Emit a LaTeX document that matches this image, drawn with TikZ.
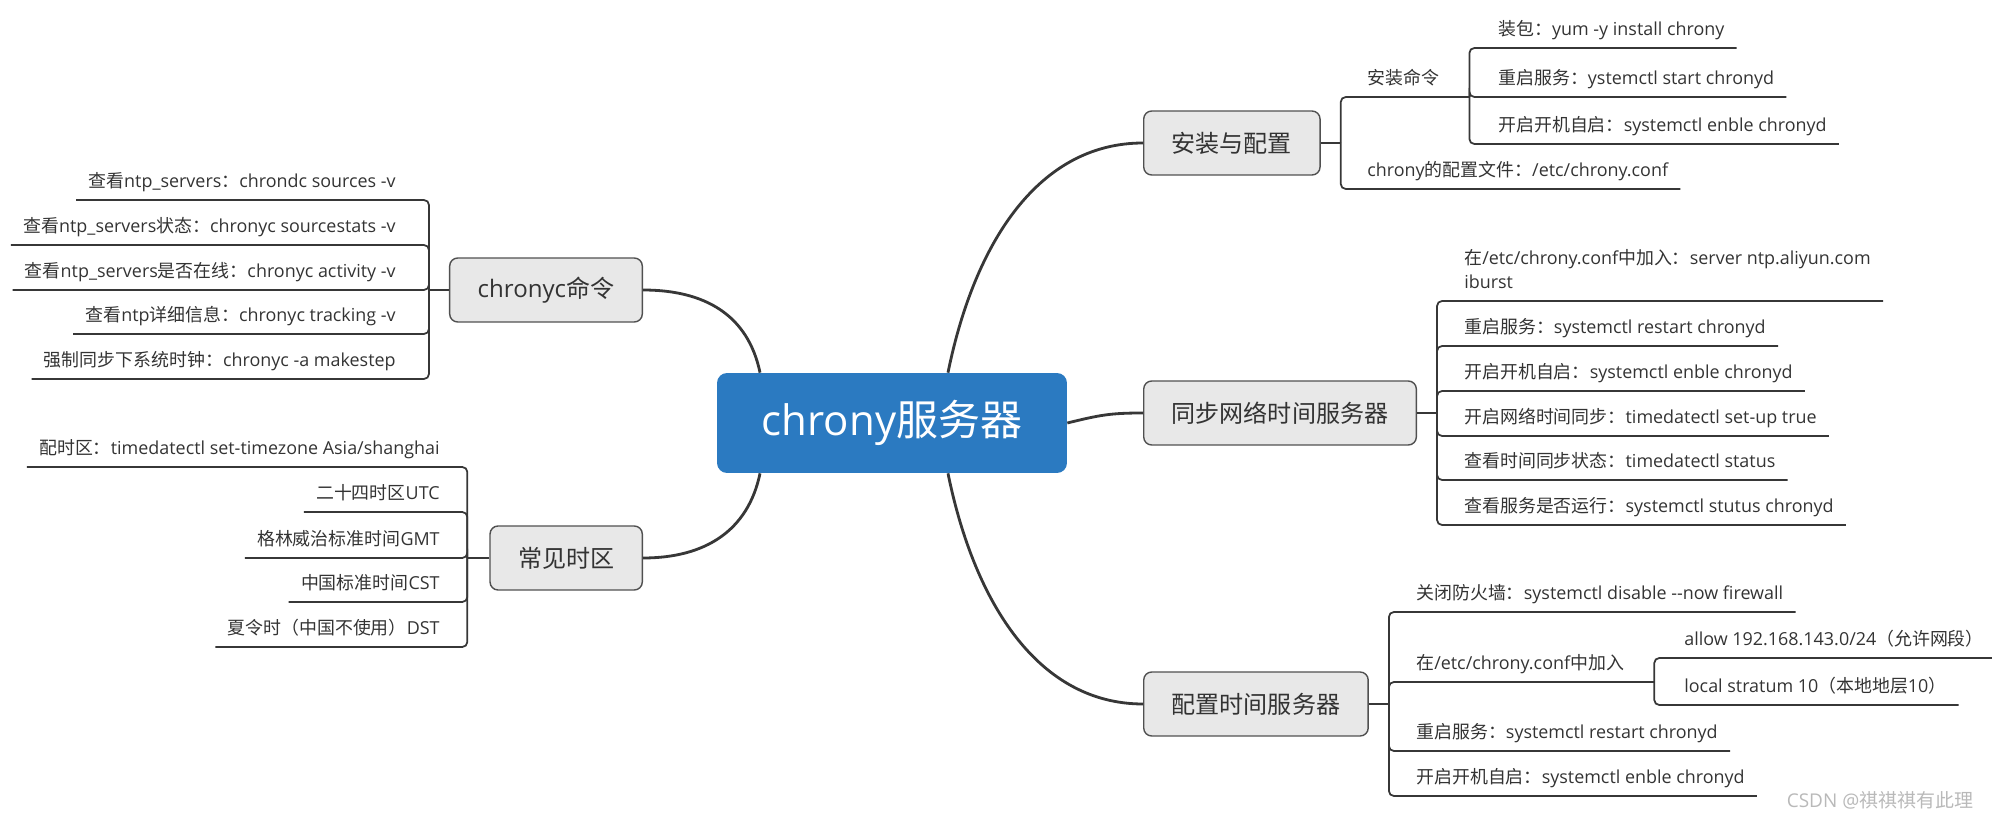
\documentclass[tikz,border=0pt]{standalone}
\usepackage{fontspec}
\setmainfont{Open Sans}[Ligatures=TeXOff]
\newfontfamily\zhfont{Noto Sans CJK SC}
\newcommand{\zh}[1]{{\zhfont #1}}
\definecolor{rootblue}{RGB}{43,122,193}
\definecolor{boxfill}{RGB}{232,232,232}
\definecolor{boxline}{RGB}{80,80,80}
\definecolor{inkgray}{RGB}{51,51,51}
\definecolor{linegray}{RGB}{55,55,55}

\begin{document}
\begin{tikzpicture}[
    x=0.02cm, y=-0.02cm,
    text=inkgray,
    font=\fontsize{10.2pt}{13.7pt}\selectfont,
    root/.style={fill=rootblue, text=white, rounded corners=0.2cm,
                 minimum width=7cm, minimum height=2cm,
                 font=\fontsize{23.9pt}{28pt}\selectfont},
    topic/.style={draw=boxline, fill=boxfill, line width=0.8pt,
                  rounded corners=0.16cm, minimum height=1.28cm,
                  inner xsep=0.56cm, font=\fontsize{13.7pt}{16pt}\selectfont},
    leafR/.style={anchor=south west, align=left, inner xsep=0.24cm,
                  inner ysep=0.16cm, text depth=0.08cm},
    leafL/.style={anchor=south east, align=right, inner xsep=0.24cm,
                  inner ysep=0.16cm, text depth=0.08cm},
    branch/.style={draw=linegray, line width=1.6pt},
    twig/.style={draw=linegray, line width=1pt, rounded corners=0.1cm}
]
    \useasboundingbox (0,0) rectangle (1992,820);

    % centre and main topics
    \node[root] (core) at (892,423) {chrony\zh{服务器}};
    \node[topic, anchor=west] (setup) at (1143,143) {\zh{安装与配置}};
    \node[topic, anchor=west] (sync) at (1143,413) {\zh{同步网络时间服务器}};
    \node[topic, anchor=west] (serve) at (1143,704) {\zh{配置时间服务器}};
    \node[topic, anchor=east] (cmd) at (643,290) {chronyc\zh{命令}};
    \node[topic, anchor=east] (zone) at (643,558) {\zh{常见时区}};

    \draw[branch] ([xshift=1.12cm]core.north) .. controls (975,240) and (1040,143) .. (setup.west);
    \draw[branch] (core.east) .. controls (1100,415) and (1110,413) .. (sync.west);
    \draw[branch] ([xshift=1.12cm]core.south) .. controls (975,606) and (1040,704) .. (serve.west);
    \draw[branch] ([xshift=-2.64cm]core.north) .. controls (748,315) and (705,290) .. (cmd.east);
    \draw[branch] ([xshift=-2.64cm]core.south) .. controls (748,531) and (705,558) .. (zone.east);

    \coordinate (setupj) at ([xshift=0.4cm]setup.east);
    \coordinate (syncj) at ([xshift=0.4cm]sync.east);
    \coordinate (servej) at ([xshift=0.4cm]serve.east);
    \coordinate (cmdj) at ([xshift=-0.4cm]cmd.west);
    \coordinate (zonej) at ([xshift=-0.44cm]zone.west);
    \draw[twig] (setup.east) -- (setupj);
    \draw[twig] (sync.east) -- (syncj);
    \draw[twig] (serve.east) -- (servej);
    \draw[twig] (cmd.west) -- (cmdj);
    \draw[twig] (zone.west) -- (zonej);

    % 安装与配置
    \node[leafR] (inst) at (1355,97) {\zh{安装命令}};
    \node[leafR] (conf) at (1355,189) {chrony\zh{的配置文件：}/etc/chrony.conf};
    \coordinate (instj) at ([xshift=0.36cm]inst.south east);
    \node[leafR] (yum) at (1486,48) {\zh{装包：}yum -y install chrony};
    \node[leafR] (start) at (1486,97) {\zh{重启服务：}ystemctl start chronyd};
    \node[leafR] (boot) at (1486,144) {\zh{开启开机自启：}systemctl enble chronyd};
    \draw[twig] (setupj) |- (instj);
    \draw[twig] (setupj) |- (conf.south east);
    \draw[twig] (instj) |- (yum.south east);
    \draw[twig] (instj) |- (start.south east);
    \draw[twig] (instj) |- (boot.south east);

    % 同步网络时间服务器
    \node[leafR] (aliyun) at (1452,301) {\zh{在}/etc/chrony.conf\zh{中加入：}server ntp.aliyun.com\\iburst};
    \node[leafR] (restartA) at (1452,346) {\zh{重启服务：}systemctl restart chronyd};
    \node[leafR] (bootA) at (1452,391) {\zh{开启开机自启：}systemctl enble chronyd};
    \node[leafR] (ntpon) at (1452,436) {\zh{开启网络时间同步：}timedatectl set-up true};
    \node[leafR] (status) at (1452,480) {\zh{查看时间同步状态：}timedatectl status};
    \node[leafR] (running) at (1452,525) {\zh{查看服务是否运行：}systemctl stutus chronyd};
    \draw[twig] (syncj) |- (aliyun.south east);
    \draw[twig] (syncj) |- (restartA.south east);
    \draw[twig] (syncj) |- (bootA.south east);
    \draw[twig] (syncj) |- (ntpon.south east);
    \draw[twig] (syncj) |- (status.south east);
    \draw[twig] (syncj) |- (running.south east);

    % 配置时间服务器
    \node[leafR] (firewall) at (1404,612) {\zh{关闭防火墙：}systemctl disable --now firewall};
    \node[leafR] (append) at (1404,682) {\zh{在}/etc/chrony.conf\zh{中加入}};
    \coordinate (appendj) at ([xshift=0.36cm]append.south east);
    \node[leafR] (allow) at (1672,658) {allow 192.168.143.0/24\zh{（允许网段）}};
    \node[leafR] (stratum) at (1672,705) {local stratum 10\zh{（本地地层}10\zh{）}};
    \node[leafR] (restartB) at (1404,751) {\zh{重启服务：}systemctl restart chronyd};
    \node[leafR] (bootB) at (1404,796) {\zh{开启开机自启：}systemctl enble chronyd};
    \draw[twig] (servej) |- (firewall.south east);
    \draw[twig] (servej) |- (appendj);
    \draw[twig] (appendj) |- (allow.south east);
    \draw[twig] (appendj) |- (stratum.south east);
    \draw[twig] (servej) |- (restartB.south east);
    \draw[twig] (servej) |- (bootB.south east);

    % chronyc命令
    \node[leafL] (sources) at (408,200) {\zh{查看}ntp\_servers\zh{：}chrondc sources -v};
    \node[leafL] (stats) at (408,245) {\zh{查看}ntp\_servers\zh{状态：}chronyc sourcestats -v};
    \node[leafL] (online) at (408,290) {\zh{查看}ntp\_servers\zh{是否在线：}chronyc activity -v};
    \node[leafL] (tracking) at (408,334) {\zh{查看}ntp\zh{详细信息：}chronyc tracking -v};
    \node[leafL] (makestep) at (408,379) {\zh{强制同步下系统时钟：}chronyc -a makestep};
    \draw[twig] (cmdj) |- (sources.south west);
    \draw[twig] (cmdj) |- (stats.south west);
    \draw[twig] (cmdj) |- (online.south west);
    \draw[twig] (cmdj) |- (tracking.south west);
    \draw[twig] (cmdj) |- (makestep.south west);

    % 常见时区
    \node[leafL] (settz) at (452,467) {\zh{配时区：}timedatectl set-timezone Asia/shanghai};
    \node[leafL] (utc) at (452,512) {\zh{二十四时区}UTC};
    \node[leafL] (gmt) at (452,558) {\zh{格林威治标准时间}GMT};
    \node[leafL] (cst) at (452,602) {\zh{中国标准时间}CST};
    \node[leafL] (dst) at (452,647) {\zh{夏令时（中国不使用）}DST};
    \draw[twig] (zonej) |- (settz.south west);
    \draw[twig] (zonej) |- (utc.south west);
    \draw[twig] (zonej) |- (gmt.south west);
    \draw[twig] (zonej) |- (cst.south west);
    \draw[twig] (zonej) |- (dst.south west);

    \node[text=gray!55, font=\fontsize{10.8pt}{13pt}\selectfont] (mark) at (1880,800) {CSDN @\zh{祺祺祺有此理}};
\end{tikzpicture}
\end{document}
